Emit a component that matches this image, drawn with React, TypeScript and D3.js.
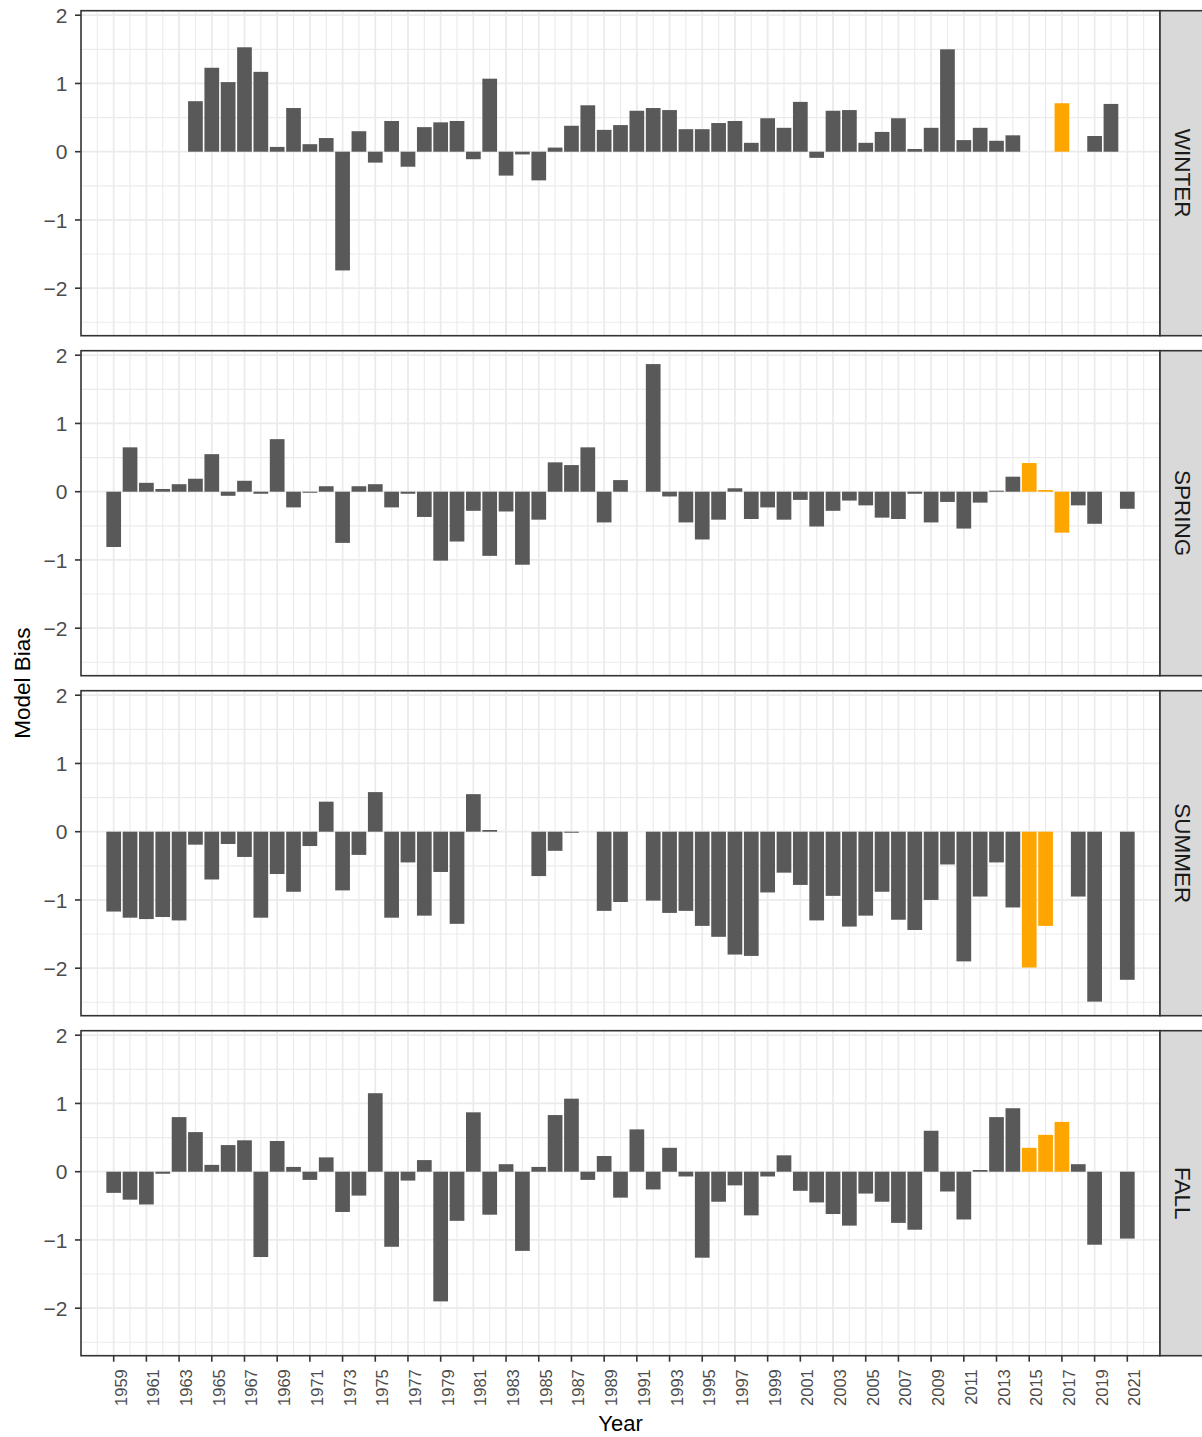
import React from "react";
import * as d3 from "d3";

const years = [
  1959, 1960, 1961, 1962, 1963, 1964, 1965, 1966, 1967, 1968, 1969, 1970, 1971,
  1972, 1973, 1974, 1975, 1976, 1977, 1978, 1979, 1980, 1981, 1982, 1983, 1984,
  1985, 1986, 1987, 1988, 1989, 1990, 1991, 1992, 1993, 1994, 1995, 1996, 1997,
  1998, 1999, 2000, 2001, 2002, 2003, 2004, 2005, 2006, 2007, 2008, 2009, 2010,
  2011, 2012, 2013, 2014, 2015, 2016, 2017, 2018, 2019, 2020, 2021,
];

const seasons = ["WINTER", "SPRING", "SUMMER", "FALL"];

const winter = [
  null, null, null, null, null, 0.74, 1.23, 1.02, 1.53, 1.17, 0.07, 0.64, 0.11,
  0.2, -1.74, 0.3, -0.16, 0.45, -0.22, 0.36, 0.43, 0.45, -0.11, 1.07, -0.35, -0.04,
  -0.42, 0.06, 0.38, 0.68, 0.32, 0.39, 0.6, 0.64, 0.61, 0.33, 0.33, 0.42, 0.45,
  0.13, 0.49, 0.35, 0.73, -0.09, 0.6, 0.61, 0.13, 0.29, 0.49, 0.04, 0.35, 1.5,
  0.17, 0.35, 0.16, 0.24, null, null, 0.71, null, 0.23, 0.7, null,
];

const spring = [
  -0.81, 0.65, 0.13, 0.04, 0.11, 0.19, 0.55, -0.06, 0.16, -0.03, 0.77, -0.23, -0.015,
  0.08, -0.75, 0.08, 0.11, -0.23, -0.03, -0.37, -1.01, -0.73, -0.28, -0.94, -0.29, -1.07,
  -0.41, 0.43, 0.39, 0.65, -0.45, 0.17, null, 1.87, -0.07, -0.45, -0.7, -0.41, 0.05,
  -0.4, -0.23, -0.41, -0.12, -0.51, -0.28, -0.13, -0.2, -0.38, -0.4, -0.03, -0.45, -0.15,
  -0.54, -0.16, 0.015, 0.22, 0.42, 0.025, -0.6, -0.2, -0.47, null, -0.25,
];

const summer = [
  -1.17, -1.26, -1.28, -1.25, -1.3, -0.19, -0.7, -0.18, -0.37, -1.26, -0.62, -0.88, -0.21,
  0.44, -0.86, -0.34, 0.58, -1.26, -0.45, -1.23, -0.59, -1.35, 0.55, 0.025, null, null,
  -0.65, -0.28, -0.015, null, -1.16, -1.03, null, -1.01, -1.19, -1.16, -1.38, -1.54, -1.8,
  -1.82, -0.89, -0.6, -0.78, -1.3, -0.94, -1.39, -1.23, -0.88, -1.29, -1.44, -1.0, -0.48,
  -1.9, -0.95, -0.45, -1.11, -1.99, -1.38, null, -0.95, -2.49, null, -2.17,
];

const fall = [
  -0.31, -0.41, -0.48, -0.03, 0.8, 0.58, 0.1, 0.39, 0.46, -1.25, 0.45, 0.07, -0.12,
  0.21, -0.59, -0.35, 1.15, -1.1, -0.13, 0.17, -1.9, -0.72, 0.87, -0.63, 0.11, -1.16,
  0.07, 0.83, 1.07, -0.12, 0.23, -0.38, 0.62, -0.26, 0.35, -0.07, -1.26, -0.44, -0.2,
  -0.64, -0.07, 0.24, -0.28, -0.45, -0.62, -0.79, -0.32, -0.44, -0.75, -0.85, 0.6, -0.29,
  -0.7, 0.025, 0.8, 0.93, 0.35, 0.54, 0.73, 0.11, -1.07, null, -0.98,
];

const highlightYears = [2015, 2016, 2017];

const xTickYears = [
  1959, 1961, 1963, 1965, 1967, 1969, 1971, 1973, 1975, 1977, 1979, 1981, 1983,
  1985, 1987, 1989, 1991, 1993, 1995, 1997, 1999, 2001, 2003, 2005, 2007, 2009,
  2011, 2013, 2015, 2017, 2019, 2021,
];
const xMinorYears = [
  1958, 1960, 1962, 1964, 1966, 1968, 1970, 1972, 1974, 1976, 1978, 1980, 1982,
  1984, 1986, 1988, 1990, 1992, 1994, 1996, 1998, 2000, 2002, 2004, 2006, 2008,
  2010, 2012, 2014, 2016, 2018, 2020, 2022,
];
const yTicks = [-2, -1, 0, 1, 2];
const yMinorTicks = [-2.5, -1.5, -0.5, 0.5, 1.5];

const seriesBySeason = [winter, spring, summer, fall];

const W = 1202;
const H = 1437;
const panelLeft = 81;
const panelRight = 1160;
const panelTop0 = 10.7;
const panelH = 325;
const panelStep = 340;
const stripW = 50;
const font = "'Liberation Sans', Arial, Helvetica, sans-serif";

export default function App() {
  const x = d3.scaleLinear().domain([1957, 2023]).range([panelLeft, panelRight]);
  const bw = (x(1) - x(0)) * 0.9;
  const grid = "#EBEBEB";
  const border = "#333333";

  const lastTop = panelTop0 + 3 * panelStep;
  const lastBottom = lastTop + panelH;

  return (
    <svg
      width={W}
      height={H}
      style={{ position: "absolute", left: 0, top: 0, background: "#fff" }}
      fontFamily={font}
    >
      <rect x={0} y={0} width={W} height={H} fill="#fff" />
      {seasons.map((season, si) => {
        const top = panelTop0 + si * panelStep;
        const y = d3
          .scaleLinear()
          .domain([-2.696, 2.066])
          .range([top + panelH, top]);
        const vals = seriesBySeason[si];
        return (
          <g key={season}>
            <rect x={panelLeft} y={top} width={panelRight - panelLeft} height={panelH} fill="#fff" />
            {yMinorTicks.map((t) => (
              <line key={"ym" + t} x1={panelLeft} x2={panelRight} y1={y(t)} y2={y(t)} stroke={grid} strokeWidth={1.1} />
            ))}
            {xMinorYears.map((t) => (
              <line key={"xm" + t} x1={x(t)} x2={x(t)} y1={top} y2={top + panelH} stroke={grid} strokeWidth={1.1} />
            ))}
            {yTicks.map((t) => (
              <line key={"yM" + t} x1={panelLeft} x2={panelRight} y1={y(t)} y2={y(t)} stroke={grid} strokeWidth={1.8} />
            ))}
            {xTickYears.map((t) => (
              <line key={"xM" + t} x1={x(t)} x2={x(t)} y1={top} y2={top + panelH} stroke={grid} strokeWidth={1.8} />
            ))}
            {years.map((yr, i) => {
              const v = vals[i];
              if (v === null || v === undefined) return null;
              const y0 = y(0);
              const y1 = y(v);
              return (
                <rect
                  key={yr}
                  x={x(yr) - bw / 2}
                  y={Math.min(y0, y1)}
                  width={bw}
                  height={Math.abs(y1 - y0)}
                  fill={highlightYears.includes(yr) ? "#FFA500" : "#595959"}
                />
              );
            })}
            <rect
              x={panelLeft}
              y={top}
              width={panelRight - panelLeft}
              height={panelH}
              fill="none"
              stroke={border}
              strokeWidth={1.6}
            />
            {yTicks.map((t) => (
              <g key={"yt" + t}>
                <line x1={panelLeft - 6} x2={panelLeft} y1={y(t)} y2={y(t)} stroke={border} strokeWidth={1.6} />
                <text
                  x={67.5}
                  y={y(t)}
                  dy="0.36em"
                  textAnchor="end"
                  fontSize={21}
                  fill="#4D4D4D"
                >
                  {t < 0 ? "\u2212" + Math.abs(t) : String(t)}
                </text>
              </g>
            ))}
            <rect
              x={panelRight}
              y={top}
              width={stripW}
              height={panelH}
              fill="#D9D9D9"
              stroke={border}
              strokeWidth={1.6}
            />
            <text
              transform={`translate(${1175},${top + panelH / 2}) rotate(90)`}
              textAnchor="middle"
              fontSize={22.5}
              fill="#1A1A1A"
            >
              {season}
            </text>
          </g>
        );
      })}
      {xTickYears.map((t) => (
        <g key={"xt" + t}>
          <line x1={x(t)} x2={x(t)} y1={lastBottom} y2={lastBottom + 6} stroke={border} strokeWidth={1.6} />
          <text
            transform={`translate(${x(t) + 13},${lastBottom + 13.5}) rotate(-90)`}
            textAnchor="end"
            fontSize={16.5}
            fill="#4D4D4D"
          >
            {String(t)}
          </text>
        </g>
      ))}
      <text x={(panelLeft + panelRight) / 2} y={1431} textAnchor="middle" fontSize={22} fill="#000">
        Year
      </text>
      <text
        transform={`translate(30,${(panelTop0 + lastBottom) / 2}) rotate(-90)`}
        textAnchor="middle"
        fontSize={22.5}
        fill="#000"
      >
        Model Bias
      </text>
    </svg>
  );
}
